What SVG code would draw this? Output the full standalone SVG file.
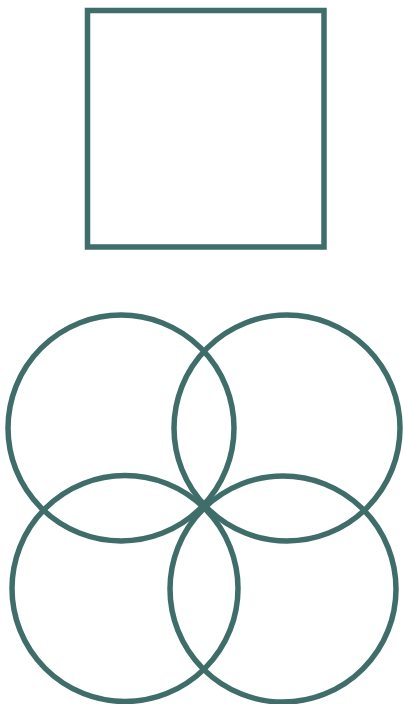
<svg xmlns="http://www.w3.org/2000/svg" width="403" height="704" viewBox="0 0 403 704">
<style>
.s{fill:none;stroke:#3e6d6a;stroke-width:5.5}
</style>
<rect width="403" height="704" fill="#ffffff"/>
<g id="square"><rect class="s" x="87.5" y="10.5" width="236.5" height="236.5"/></g>
<g id="circle-tl"><circle class="s" cx="121" cy="428" r="113"/></g>
<g id="circle-tr"><circle class="s" cx="287" cy="428" r="113"/></g>
<g id="circle-bl"><circle class="s" cx="125" cy="588.5" r="113"/></g>
<g id="circle-br"><circle class="s" cx="283" cy="589" r="113"/></g>
</svg>
